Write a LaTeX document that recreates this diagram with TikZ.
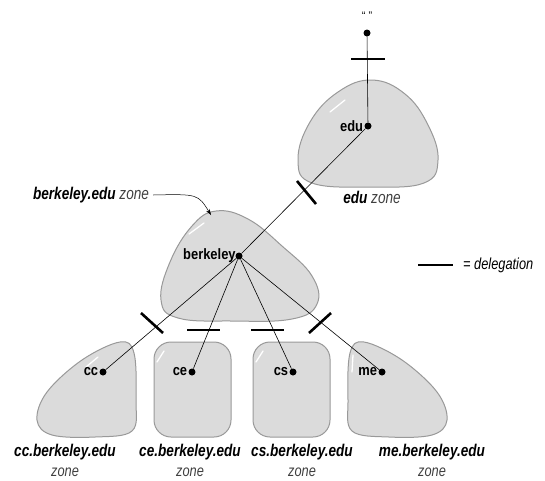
\documentclass[tikz,border=0pt]{standalone}
\usepackage{fontspec}
\setmainfont{Liberation Sans}
\newfontfamily\condfont[FakeStretch=0.8]{Liberation Sans}
\newfontfamily\hostfont[FakeStretch=0.86]{Liberation Sans}
\usetikzlibrary{arrows.meta}

\tikzset{
  zoneblob/.style={fill=black!14, draw=black!40, line width=1pt},
  shine/.style={white, line width=1.3pt, line cap=round},
  hostdot/.style={circle, fill=black, inner sep=0pt, minimum size=7pt},
  hostlabel/.style={font=\hostfont\bfseries\fontsize{15}{15}\selectfont, inner sep=1pt},
  zonename/.style={font=\condfont\bfseries\itshape\fontsize{17}{17}\selectfont, inner sep=0pt},
  zoneword/.style={font=\condfont\itshape\fontsize{16}{16}\selectfont, text=black!75, inner sep=0pt},
  link/.style={line width=0.6pt},
  deleg/.style={line width=2.6pt},
}

\begin{document}
\begin{tikzpicture}[x=1pt,y=-1pt]
  \useasboundingbox (0,0) rectangle (545,480);

  %%%%% zones %%%%%
  \draw[zoneblob] plot[smooth cycle, tension=0.7] coordinates
    {(372,80) (405,94) (428,125) (438,160) (424,183) (370,187) (312,183) (298,160) (310,122) (338,92)};
  \draw[zoneblob] plot[smooth cycle, tension=0.7] coordinates
    {(216,211) (248,219) (282,246) (312,276) (317,304) (292,319) (232,321) (178,318) (161,300) (170,262) (192,226)};
  \draw[zoneblob] plot[smooth cycle, tension=0.6] coordinates
    {(120,342) (134,353) (136,400) (132,431) (95,437) (52,435) (37,420) (47,392) (82,360)};
  \draw[zoneblob, rounded corners=17pt] (154,342) rectangle (231,437);
  \draw[zoneblob, rounded corners=17pt] (253,342) rectangle (330,437);
  \draw[zoneblob] plot[smooth cycle, tension=0.6] coordinates
    {(364,342) (350,353) (348,400) (352,431) (389,437) (432,435) (447,420) (437,392) (402,360)};

  % highlights
  \draw[shine] (330,112) -- (345,100);
  \draw[shine] (189,234) -- (204,223);
  \draw[shine] (86,367) -- (98,357);
  \draw[shine] (157,362) -- (164,351);
  \draw[shine] (256,362) -- (263,351);
  \draw[shine] (352,372) -- (353,355);

  %%%%% hosts %%%%%
  \node[font=\fontsize{11}{11}\selectfont] (rootname) at (367,16) {“ ”};
  \node[hostdot] (root) at (367,33) {};
  \node[hostdot, label={[hostlabel]left:edu}] (edu) at (368,126) {};
  \node[hostdot, label={[hostlabel, label distance=-1.5pt]left:berkeley}] (berkeley) at (239,256) {};
  \node[hostdot, label={[hostlabel]left:cc}] (cc) at (103,372) {};
  \node[hostdot, label={[hostlabel]left:ce}] (ce) at (192,372) {};
  \node[hostdot, label={[hostlabel]left:cs}] (cs) at (293,372) {};
  \node[hostdot, label={[hostlabel]left:me}] (me) at (382,372) {};

  \draw[link] (root) -- (edu);
  \draw[link] (edu) -- (berkeley);
  \draw[link] (berkeley) -- (cc);
  \draw[link] (berkeley) -- (ce);
  \draw[link] (berkeley) -- (cs);
  \draw[link] (berkeley) -- (me);

  %%%%% delegation marks %%%%%
  \draw[deleg] (351,59) -- (385,59);
  \draw[deleg] (297,181) -- (316,204);
  \draw[deleg] (141,313) -- (163,333);
  \draw[deleg] (187,330) -- (220,330);
  \draw[deleg] (251,330) -- (284,330);
  \draw[deleg] (309,333) -- (331,313);

  %%%%% labels %%%%%
  \node[zonename] (eduzone) at (372,197) {edu {\mdseries\color{black!75}zone}};
  \node[zonename] (bzone) at (91,195) {berkeley.edu {\mdseries\color{black!75}zone}};
  \draw[line width=0.5pt, -{Stealth[length=6pt, width=4pt]}] (bzone.east) ++(4,0) .. controls (198,194) .. (211,215);

  \node[zonename] (cczone) at (65,452) {cc.berkeley.edu};
  \node[zoneword] at (65,472) {zone};
  \node[zonename] (cezone) at (190,452) {ce.berkeley.edu};
  \node[zoneword] at (190,472) {zone};
  \node[zonename] (cszone) at (302,452) {cs.berkeley.edu};
  \node[zoneword] at (302,472) {zone};
  \node[zonename] (mezone) at (432,452) {me.berkeley.edu};
  \node[zoneword] at (432,472) {zone};

  % legend
  \draw[deleg] (418,265) -- (453,265);
  \node[zoneword, anchor=west, text=black] (legend) at (463,265) {= delegation};
\end{tikzpicture}
\end{document}
